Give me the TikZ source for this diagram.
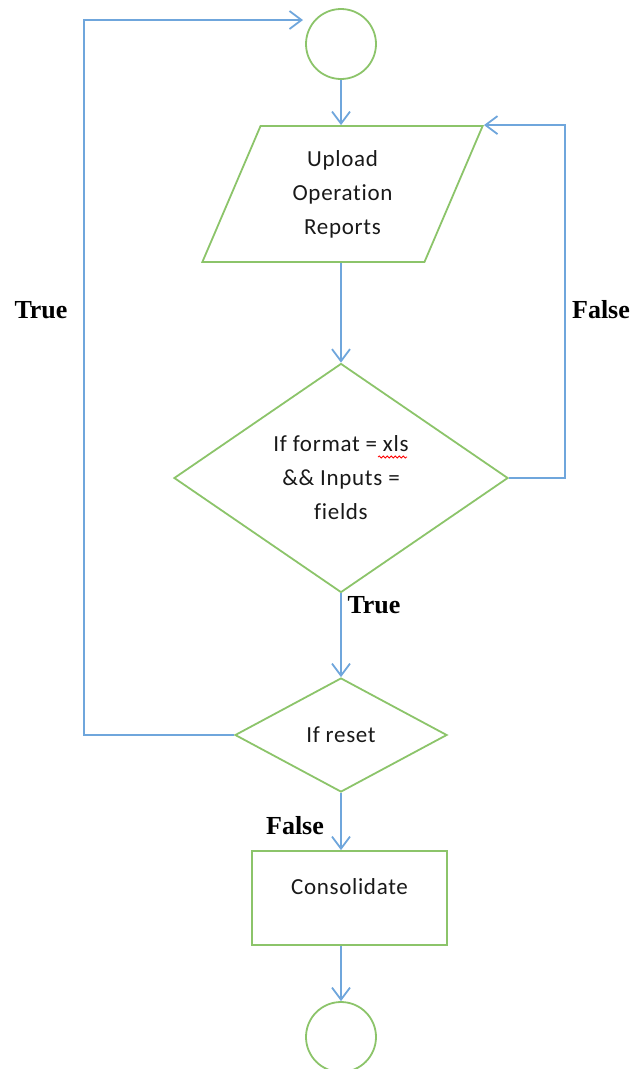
\documentclass[tikz,border=0pt]{standalone}
\usepackage{fontspec}
\setmainfont{Liberation Serif}
\newfontfamily\bodyfont[Ligatures=NoCommon, LetterSpace=3]{Carlito}
\usetikzlibrary{shapes.geometric,arrows.meta,calc,decorations.pathmorphing}
\definecolor{shapegreen}{HTML}{8CC46A}
\definecolor{linkblue}{HTML}{6FA6DC}
\begin{document}
\begin{tikzpicture}[x=1pt,y=-1pt,
  box/.style={draw=shapegreen, line width=1.8pt, font=\bodyfont\fontsize{23}{34}\selectfont,
    text=black!90, align=center, inner sep=0pt},
  link/.style={draw=linkblue, line width=1.8pt,
    -{Straight Barb[length=12pt,width=18pt,line width=1.8pt]}},
  tag/.style={font=\fontsize{26}{30}\selectfont\bfseries, text=black, inner sep=0pt}]
\useasboundingbox (0,0) rectangle (638,1069);

% shapes
\node[box, circle, minimum size=70pt] (start) at (341,44) {};
\node[box, trapezium, trapezium left angle=68, trapezium right angle=112,
  trapezium stretches=true, minimum width=281pt, minimum height=136pt]
  (upload) at (342.5,194) {Upload\\Operation\\Reports};
\node[box, diamond, minimum width=334pt, minimum height=229pt]
  (check) at (341,478) {If format = xls\\\&\& Inputs =\\fields};
\node[box, diamond, minimum width=212pt, minimum height=114pt]
  (reset) at (341,735) {If reset};
\node[box, rectangle, minimum width=195pt, minimum height=94pt,
  text height=16pt, text depth=24pt] (merge) at (349.5,898) {Consolidate};
\node[box, circle, minimum size=70pt] (stop) at (341,1037) {};

% spell-check underline
\draw[red, line width=0.8pt, decorate, decoration={snake, amplitude=1pt, segment length=4pt}]
  ($(check.center)+(37,-21)$) -- ($(check.center)+(66,-21)$);

% connectors
\coordinate (loopend) at (303,20);
\draw[link] (start.south) -- (start.south |- upload.north);
\draw[link] (check.north |- upload.south) -- (check.north);
\draw[link] (check.east) -- ++(56,0) |- (upload.top right corner);
\draw[link] (check.south) -- (reset.north);
\draw[link] (reset.west) -- ++(-150,0) |- (loopend);
\draw[link] (reset.south) -- (reset.south |- merge.north);
\draw[link] (reset.south |- merge.south) -- (stop.north);

% branch labels
\node[tag] (falseup) at (601,310) {False};
\node[tag] (truedown) at (374,605) {True};
\node[tag] (trueback) at (41,310) {True};
\node[tag] (falsedown) at (295,826) {False};
\end{tikzpicture}
\end{document}
